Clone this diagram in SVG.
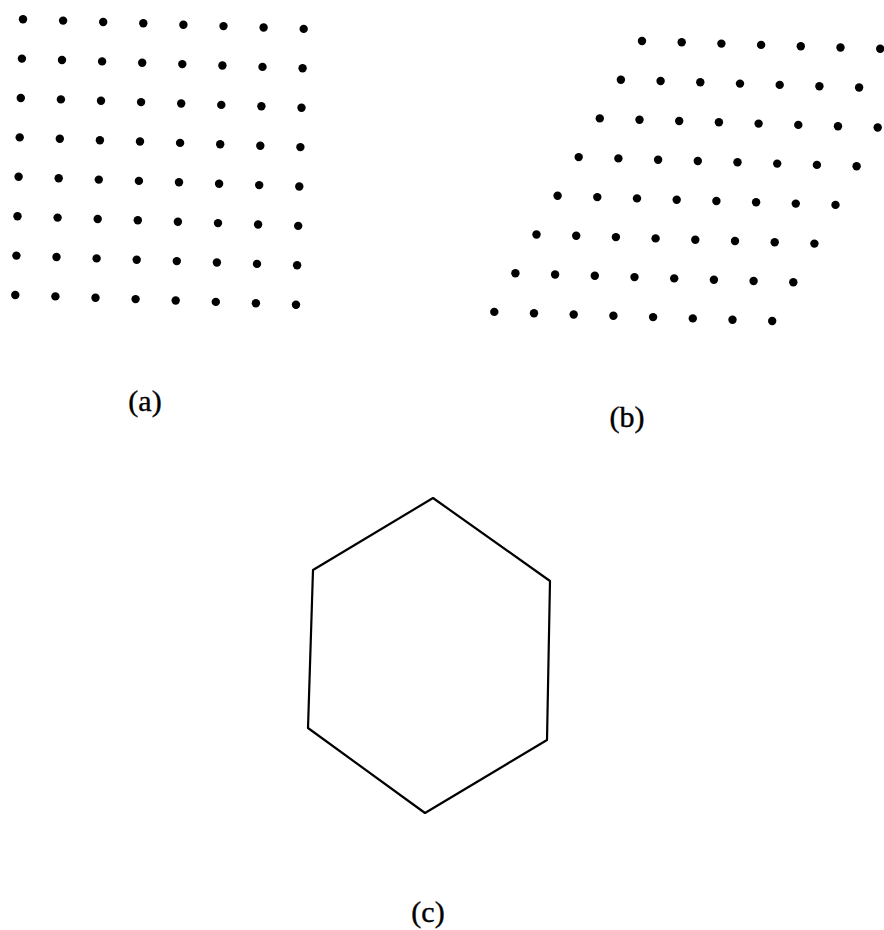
<svg xmlns="http://www.w3.org/2000/svg" width="884" height="930" viewBox="0 0 884 930">
<style>
.d{fill:#000}
.lbl{font-family:"Liberation Serif","Times New Roman",serif;font-size:30px;fill:#000;stroke:#000;stroke-width:0.4;text-anchor:middle}
.hex{fill:none;stroke:#000;stroke-width:2.2;stroke-linejoin:round}
</style>
<defs>
<circle id="dot" r="4.2" class="d"/>
<g id="rowA">
<use href="#dot" x="0" y="0"/><use href="#dot" x="40.1" y="1.4"/><use href="#dot" x="80.2" y="2.8"/><use href="#dot" x="120.3" y="4.1"/><use href="#dot" x="160.4" y="5.5"/><use href="#dot" x="200.5" y="6.9"/><use href="#dot" x="240.6" y="8.3"/><use href="#dot" x="280.7" y="9.7"/>
</g>
<g id="rowB">
<use href="#dot" x="0" y="0"/><use href="#dot" x="39.7" y="1.3"/><use href="#dot" x="79.4" y="2.6"/><use href="#dot" x="119.1" y="3.9"/><use href="#dot" x="158.8" y="5.2"/><use href="#dot" x="198.5" y="6.5"/><use href="#dot" x="238.2" y="7.8"/><use href="#dot" x="277.9" y="9.1"/>
</g>
<g id="rowB7">
<use href="#dot" x="0" y="0"/><use href="#dot" x="39.7" y="1.3"/><use href="#dot" x="79.4" y="2.6"/><use href="#dot" x="119.1" y="3.9"/><use href="#dot" x="158.8" y="5.2"/><use href="#dot" x="198.5" y="6.5"/><use href="#dot" x="238.2" y="7.8"/>
</g>
</defs>
<rect width="884" height="930" fill="#fff"/>
<g id="panel-a">
<use href="#rowA" x="23" y="19.2"/>
<use href="#rowA" x="21.9" y="58.6"/>
<use href="#rowA" x="20.8" y="98"/>
<use href="#rowA" x="19.7" y="137.4"/>
<use href="#rowA" x="18.6" y="176.8"/>
<use href="#rowA" x="17.5" y="216.2"/>
<use href="#rowA" x="16.4" y="255.6"/>
<use href="#rowA" x="15.3" y="295"/>
<text class="lbl" x="145" y="411">(a)</text>
</g>
<g id="panel-b">
<use href="#rowB7" x="642" y="41"/>
<use href="#rowB7" x="620.9" y="79.7"/>
<use href="#rowB" x="599.8" y="118.4"/>
<use href="#rowB" x="578.7" y="157.1"/>
<use href="#rowB" x="557.6" y="195.8"/>
<use href="#rowB" x="536.5" y="234.5"/>
<use href="#rowB" x="515.4" y="273.2"/>
<use href="#rowB" x="494.3" y="311.9"/>
<text class="lbl" x="627" y="427">(b)</text>
</g>
<g id="panel-c">
<polygon class="hex" points="433,498 550,581 547,740 425,813 308,728 313,570"/>
<text class="lbl" x="428" y="922">(c)</text>
</g>
</svg>
